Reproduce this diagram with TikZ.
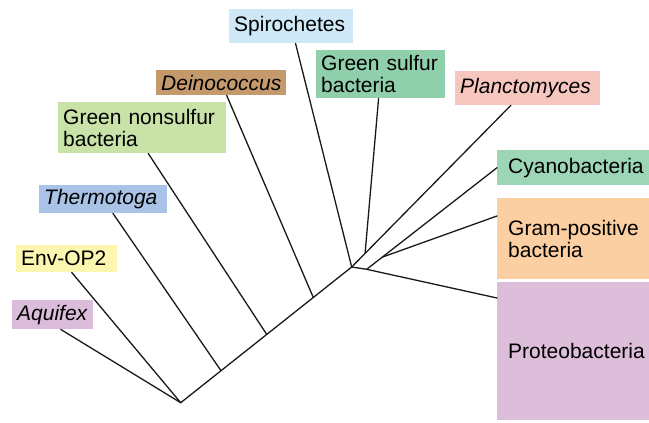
\documentclass[tikz,border=0pt]{standalone}
\usepackage{fontspec}
\setmainfont{Liberation Sans}
\usetikzlibrary{calc}
\definecolor{spirofill}{RGB}{207,232,247}
\definecolor{gsbfill}{RGB}{143,207,172}
\definecolor{deinofill}{RGB}{196,154,108}
\definecolor{gnsbfill}{RGB}{200,226,168}
\definecolor{thermofill}{RGB}{168,195,229}
\definecolor{envopfill}{RGB}{252,246,176}
\definecolor{aqufill}{RGB}{219,188,218}
\definecolor{plancfill}{RGB}{247,199,191}
\definecolor{cyanofill}{RGB}{156,214,183}
\definecolor{gramfill}{RGB}{251,207,161}
\definecolor{proteofill}{RGB}{220,190,219}

\begin{document}
\begin{tikzpicture}%
  [x=1pt,y=-1pt,
   taxon/.style=
    {anchor=north west,align=left,inner xsep=5pt,inner ysep=0pt,
     font=\fontsize{21}{22}\selectfont},
   side/.style=
    {taxon,inner xsep=11pt,text width=145pt},
   branch/.style={line width=1.3pt,black!90,line cap=round}
  ]
  \useasboundingbox (0,0) rectangle (649,423);
  \node[taxon,fill=spirofill,text width=114pt,minimum height=34pt] (spiro) at (229,9) {Spirochetes};
  \node[taxon,fill=gsbfill,text width=119pt,minimum height=48pt] (gsb) at (316,50) {Green sulfur\\bacteria};
  \node[taxon,fill=deinofill,text width=120pt,minimum height=25pt] (deino) at (156,70) {\textit{Deinococcus}};
  \node[taxon,fill=gnsbfill,text width=158pt,minimum height=51pt] (gnsb) at (58,102) {Green nonsulfur\\bacteria};
  \node[taxon,fill=thermofill,text width=118pt,minimum height=28pt] (thermo) at (39,185) {\textit{Thermotoga}};
  \node[taxon,fill=envopfill,text width=91pt,minimum height=27pt] (envop) at (16,245) {Env-OP2};
  \node[taxon,fill=aqufill,text width=71pt,minimum height=29pt] (aqu) at (12,300) {\textit{Aquifex}};
  \node[taxon,fill=plancfill,text width=135pt,minimum height=34pt] (planc) at (455,71) {\textit{Planctomyces}};
  \node[side,fill=cyanofill,minimum height=35pt] (cyano) at (497,150) {Cyanobacteria};
  \node[side,fill=gramfill,minimum height=81pt] (gram) at (497,198) {Gram-positive\\bacteria};
  \node[side,fill=proteofill,minimum height=138pt] (proteo) at (497,282) {Proteobacteria};

  \coordinate (root) at (180.7,402.7);
  \coordinate (t1) at (221,370.7);
  \coordinate (t2) at (266.7,334.4);
  \coordinate (t3) at (313.3,297.5);
  \coordinate (hub) at (351.7,267);
  \coordinate (p1) at (366.7,269.3);
  \coordinate (gs) at ($(hub)!0.076!(planc.center)$);
  \coordinate (p2) at ($(p1)!0.12!(cyano.west)$);

  \draw[branch] (root) -- (hub);
  \draw[branch] (root) -- ([xshift=8pt]aqu.south);
  \draw[branch] (root) -- ([xshift=5pt]envop.south);
  \draw[branch] (t1) -- (thermo);
  \draw[branch] (t2) -- ([xshift=6pt]gnsb.south);
  \draw[branch] (t3) -- (deino);
  \draw[branch] (hub) -- (spiro);
  \draw[branch] (hub) -- (planc);
  \draw[branch] (gs) -- (gsb);
  \draw[branch] (hub) -- (p1) -- ([yshift=-16pt]proteo.north west);
  \draw[branch] (p1) -- (cyano.west);
  \draw[branch] (p2) -- ([yshift=-18pt]gram.north west);
\end{tikzpicture}
\end{document}
